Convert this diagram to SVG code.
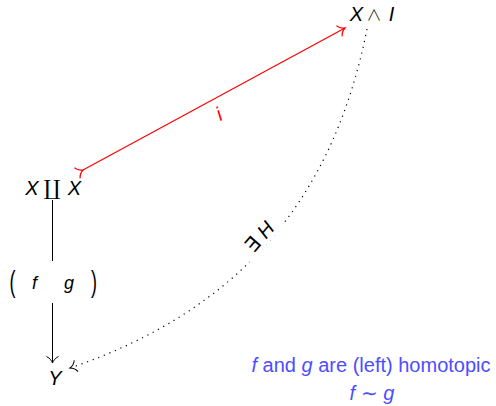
<svg xmlns="http://www.w3.org/2000/svg" width="496" height="406" viewBox="0 0 496 406">
<style>
  text { font-family: "Liberation Sans", Arial, sans-serif; font-size: 20px; fill: #000; }
  .it { font-style: italic; }
  .sym { font-family: "DejaVu Sans", sans-serif; }
  .thin { font-family: "Noto Sans CJK JP", "DejaVu Sans", sans-serif; font-weight: 300; }
  .ser { font-family: "DejaVu Serif", serif; }
  .blue { fill: #4d4dff; }
  .red { fill: #ff0000; }
  .k { stroke: #000; stroke-width: 1; fill: none; }
  .r { stroke: #ff0000; stroke-width: 1.2; fill: none; }
  .dot { stroke: #000; stroke-width: 1.2; fill: none; stroke-dasharray: 1.2 4.8; }
</style>
<defs>
  <marker id="toK" viewBox="-9 -8 11 16" refX="0" refY="0" markerWidth="11" markerHeight="16" orient="auto" markerUnits="userSpaceOnUse">
    <path d="M-6.5,-6 C-5,-2.5 -1.5,-0.5 0,0 C-1.5,0.5 -5,2.5 -6.5,6" stroke="#000" stroke-width="1" fill="none"/>
  </marker>
  <marker id="toR" viewBox="-9 -8 11 16" refX="0" refY="0" markerWidth="11" markerHeight="16" orient="auto" markerUnits="userSpaceOnUse">
    <path d="M-6.5,-6 C-5,-2.5 -1.5,-0.5 0,0 C-1.5,0.5 -5,2.5 -6.5,6" stroke="#ff0000" stroke-width="1.2" fill="none"/>
  </marker>
</defs>
<rect width="496" height="406" fill="#fff"/>
<g id="connectors">
  <path id="e-i" class="r" d="M83,170 L345,28" marker-start="url(#toR)" marker-end="url(#toR)"/>
  <path id="e-fg-top" class="k" d="M52.5,200 V261"/>
  <path id="e-fg-bottom" class="k" d="M52.5,303 V363" marker-end="url(#toK)"/>
  <path id="e-H" class="dot" d="M367,29 C332.7,202.1 237.1,311.1 70,368" marker-end="url(#toK)"/>
  <g id="label-i" transform="translate(219,114) rotate(-28)">
    <text class="it red" x="0" y="7" text-anchor="middle">i</text>
  </g>
  <g id="label-H" transform="translate(259,237) rotate(-49)">
    <rect x="-25" y="-11" width="50" height="22" fill="#fff"/>
    <text class="sym" x="-9.75" y="7" text-anchor="middle">∃</text>
    <text class="it" x="9.75" y="7" text-anchor="middle">H</text>
  </g>
  <g id="label-fg">
    <text x="12.5" y="292" text-anchor="middle" transform="translate(12.5,292) scale(1,1.6) translate(-12.5,-292)" style="font-size:18px">(</text>
    <text class="it" x="34.5" y="289" text-anchor="middle" style="font-size:18px">f</text>
    <text class="it" x="69" y="289" text-anchor="middle" style="font-size:18px">g</text>
    <text x="94" y="292" text-anchor="middle" transform="translate(94,292) scale(1,1.6) translate(-94,-292)" style="font-size:18px">)</text>
  </g>
</g>
<g id="node-XI">
  <text class="it" x="356.5" y="21" text-anchor="middle">X</text>
  <text class="thin" x="374" y="20" text-anchor="middle" style="font-size:15px">∧</text>
  <text class="it" x="391.5" y="21" text-anchor="middle">I</text>
</g>
<g id="node-XX">
  <text class="it" x="32" y="195" text-anchor="middle">X</text>
  <text class="ser" x="52" y="195" text-anchor="middle" style="font-size:21px">∐</text>
  <text class="it" x="74.5" y="195" text-anchor="middle">X</text>
</g>
<g id="node-Y">
  <text class="it" x="55" y="385" text-anchor="middle">Y</text>
</g>
<g id="note">
  <text class="blue" x="371" y="371.5" text-anchor="middle"><tspan class="it">f</tspan> and <tspan class="it">g</tspan> are (left) homotopic</text>
  <text class="blue" x="372" y="399.5" text-anchor="middle"><tspan class="it">f</tspan> ∼ <tspan class="it">g</tspan></text>
</g>
</svg>
